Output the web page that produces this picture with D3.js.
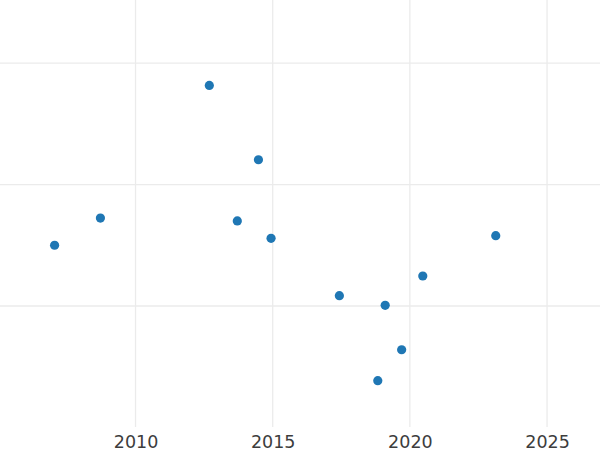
<!DOCTYPE html>
<html>
<head>
<meta charset="utf-8">
<script src="https://cdn.jsdelivr.net/npm/d3@7"></script>
<style>
  html, body { margin: 0; padding: 0; background: #fff; }
  svg { display: block; }
</style>
</head>
<body>
<svg id="chart" width="600" height="450"></svg>
<script>
// Data
const years = [2007.05, 2008.72, 2012.69, 2014.48, 2013.71, 2014.94, 2017.43, 2019.10, 2020.47, 2023.13, 2019.70, 2018.83];
const values = [5.0, 7.24, 18.16, 12.04, 7.0, 5.57, 0.85, 0.06, 2.47, 5.79, -3.6, -6.15];
const xTicks = [2010, 2015, 2020, 2025];
const yTicks = [0, 10, 20];

const width = 600, height = 450;
const plotTop = 0, plotBottom = 427, plotLeft = 0, plotRight = 600;

const svg = d3.select("#chart");

const x = d3.scaleLinear().domain([2005.06, 2026.93]).range([plotLeft, plotRight]);
const y = d3.scaleLinear().domain([-9.96, 25.19]).range([plotBottom, plotTop]);

// Grid
const grid = svg.append("g");
grid.selectAll("line.v").data(xTicks).join("line")
  .attr("class", "v")
  .attr("x1", d => x(d)).attr("x2", d => x(d))
  .attr("y1", plotTop).attr("y2", plotBottom)
  .attr("stroke", "#ebebeb").attr("stroke-width", 1.3);
grid.selectAll("line.h").data(yTicks).join("line")
  .attr("class", "h")
  .attr("x1", plotLeft).attr("x2", plotRight)
  .attr("y1", d => y(d)).attr("y2", d => y(d))
  .attr("stroke", "#ebebeb").attr("stroke-width", 1.3);

// X axis labels
const xAxis = d3.axisBottom(x).tickValues(xTicks).tickFormat(d3.format("d")).tickSize(0).tickPadding(0);
const gx = svg.append("g").attr("transform", `translate(0,${plotBottom})`).call(xAxis);
gx.select(".domain").remove();
gx.selectAll("text")
  .attr("dy", null)
  .attr("y", 20.5)
  .attr("fill", "#3d3d3d")
  .style("font-family", "DejaVu Sans, sans-serif")
  .style("font-size", "17.5px");

// Points
svg.append("g").selectAll("circle").data(years.map((yr, i) => [yr, values[i]])).join("circle")
  .attr("cx", d => x(d[0]))
  .attr("cy", d => y(d[1]))
  .attr("r", 4.6)
  .attr("fill", "#1f77b4");
</script>
</body>
</html>
